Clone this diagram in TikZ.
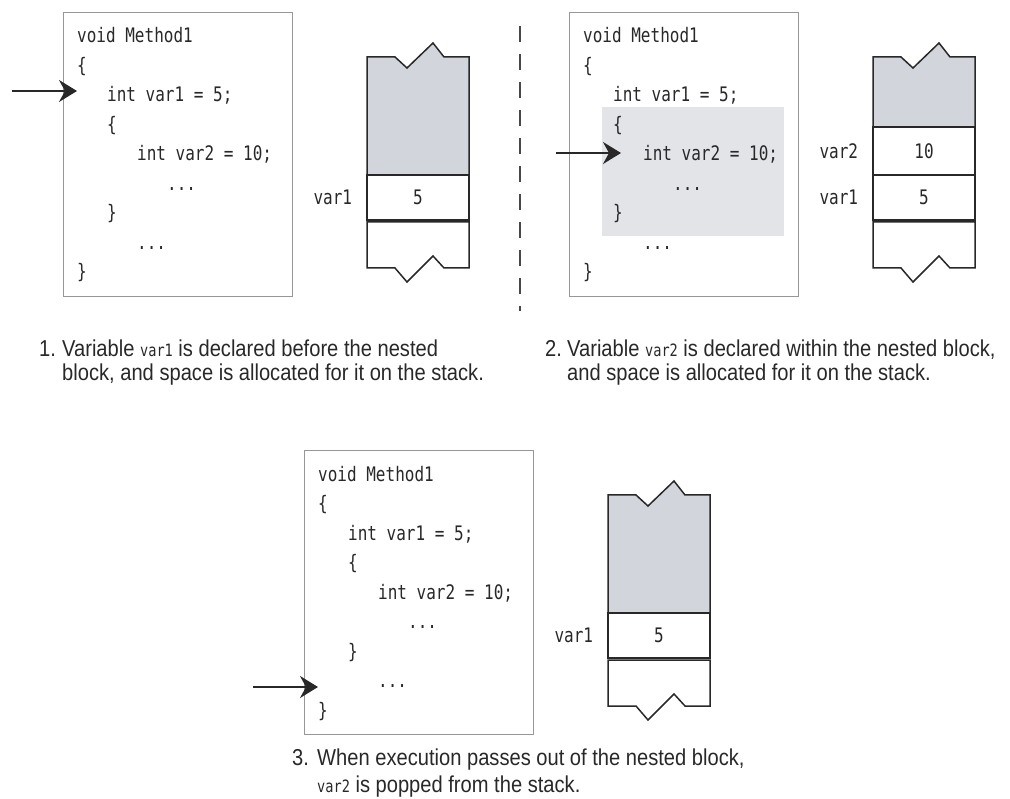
\documentclass[tikz,border=0pt]{standalone}
\usepackage{fontspec}
\usepackage{tikz}
\usetikzlibrary{arrows.meta,positioning}
\newfontfamily\codefont{DejaVu Sans Mono}[FakeStretch=0.8]
\newfontfamily\capfont{Liberation Sans}[FakeStretch=0.875]
\definecolor{ink}{RGB}{40,40,40}
\definecolor{boxgray}{RGB}{150,150,155}
\definecolor{stackfill}{RGB}{210,213,219}
\definecolor{blockfill}{RGB}{226,228,232}

\begin{document}
\begin{tikzpicture}[x=1pt,y=-1pt,>={Stealth[length=18pt,width=22pt,inset=6pt]},
                    line join=miter]
  \tikzstyle{codebox}=[draw=boxgray,line width=1.3pt,inner sep=0pt,anchor=north west,
                       minimum width=229pt,minimum height=284pt]
  \tikzstyle{code}=[font={\codefont\fontsize{20pt}{29.5pt}\selectfont},text=ink,
                    align=left,anchor=base west,inner sep=0pt]
  \tikzstyle{cell}=[draw=ink,line width=1.5pt,minimum width=102pt,minimum height=45pt,
                    inner sep=0pt,font={\codefont\fontsize{20pt}{24pt}\selectfont},text=ink]
  \tikzstyle{stackline}=[draw=ink,line width=1.5pt]
  \tikzstyle{lbl}=[font={\codefont\fontsize{20pt}{24pt}\selectfont},text=ink,inner sep=0pt]
  \tikzstyle{caption}=[font={\capfont\fontsize{23pt}{24pt}\selectfont},text=ink,
                       align=left,anchor=base west,inner sep=0pt]
  \tikzstyle{pointer}=[->,draw=ink,line width=1.5pt]
  \newcommand{\cv}[1]{{\codefont\fontsize{17pt}{20pt}\selectfont #1}}

  \useasboundingbox (0,0) rectangle (1010,799);

  % panel 1 (code node sits on the baseline of its last line)
  \node[codebox] (box1) at (63,12) {};
  \node[code] (code1) at (77,279) {void Method1\\\{\\\hspace*{30pt}int var1 = 5;\\
    \hspace*{30pt}\{\\\hspace*{60pt}int var2 = 10;\\\hspace*{90pt}...\\
    \hspace*{30pt}\}\\\hspace*{60pt}...\\\}};
  \coordinate (p1s) at (12,91);
  \coordinate (p1e) at (77,91);
  \draw[pointer] (p1s) -- (p1e);

  \draw[stackline,fill=stackfill] (367,175) -- (367,57) -- (395,57) -- (407,68) -- (433,43)
    -- (444,57) -- (469,57) -- (469,175) -- cycle;
  \node[cell] (s1a) at (418,197.5) {5};
  \draw[stackline] (367,222) -- (367,268) -- (395,268) -- (407,282) -- (433,256)
    -- (444,268) -- (469,268) -- (469,222) -- cycle;
  \node[lbl,left=14pt of s1a] (l1a) {var1};

  % divider
  \coordinate (d1) at (520,26);
  \coordinate (d2) at (520,311);
  \draw[ink!85,line width=1.3pt,dash pattern=on 16pt off 12pt] (d1) -- (d2);

  % panel 2
  \node[codebox] (box2) at (569,12) {};
  \node[fill=blockfill,inner sep=0pt,anchor=north west,minimum width=182pt,
        minimum height=129pt] (blk2) at (602,107) {};
  \node[code] (code2) at (583,279) {void Method1\\\{\\\hspace*{30pt}int var1 = 5;\\
    \hspace*{30pt}\{\\\hspace*{60pt}int var2 = 10;\\\hspace*{90pt}...\\
    \hspace*{30pt}\}\\\hspace*{60pt}...\\\}};
  \coordinate (p2s) at (556,153);
  \coordinate (p2e) at (621,153);
  \draw[pointer] (p2s) -- (p2e);

  \draw[stackline,fill=stackfill] (873,127) -- (873,57) -- (901,57) -- (913,68) -- (939,43)
    -- (950,57) -- (975,57) -- (975,127) -- cycle;
  \node[cell,minimum height=48pt] (s2b) at (924,151) {10};
  \node[cell] (s2a) at (924,197.5) {5};
  \draw[stackline] (873,222) -- (873,268) -- (901,268) -- (913,282) -- (939,256)
    -- (950,268) -- (975,268) -- (975,222) -- cycle;
  \node[lbl,left=14pt of s2b] (l2b) {var2};
  \node[lbl,left=14pt of s2a] (l2a) {var1};

  % captions 1 and 2
  \node[caption] (c1n) at (39,357) {1.};
  \node[caption] (c1t) at (62,381) {Variable \cv{var1} is declared before the nested\\
    block, and space is allocated for it on the stack.};
  \node[caption] (c2n) at (545,357) {2.};
  \node[caption] (c2t) at (567,381) {Variable \cv{var2} is declared within the nested block,\\
    and space is allocated for it on the stack.};

  % panel 3
  \begin{scope}[shift={(241,438)}]
    \node[codebox] (box3) at (63,12) {};
    \node[code] (code3) at (77,279) {void Method1\\\{\\\hspace*{30pt}int var1 = 5;\\
      \hspace*{30pt}\{\\\hspace*{60pt}int var2 = 10;\\\hspace*{90pt}...\\
      \hspace*{30pt}\}\\\hspace*{60pt}...\\\}};
    \coordinate (p3s) at (12,249);
    \coordinate (p3e) at (77,249);
    \draw[pointer] (p3s) -- (p3e);

    \draw[stackline,fill=stackfill] (367,175) -- (367,57) -- (395,57) -- (407,68) -- (433,43)
      -- (444,57) -- (469,57) -- (469,175) -- cycle;
    \node[cell] (s3a) at (418,197.5) {5};
    \draw[stackline] (367,222) -- (367,268) -- (395,268) -- (407,282) -- (433,256)
      -- (444,268) -- (469,268) -- (469,222) -- cycle;
    \node[lbl,left=14pt of s3a] (l3a) {var1};
  \end{scope}

  % caption 3
  \node[caption] (c3n) at (292,765) {3.};
  \node[caption,font={\capfont\fontsize{23pt}{27pt}\selectfont}] (c3t) at (317,792)
    {When execution passes out of the nested block,\\
    \cv{var2} is popped from the stack.};
\end{tikzpicture}
\end{document}
